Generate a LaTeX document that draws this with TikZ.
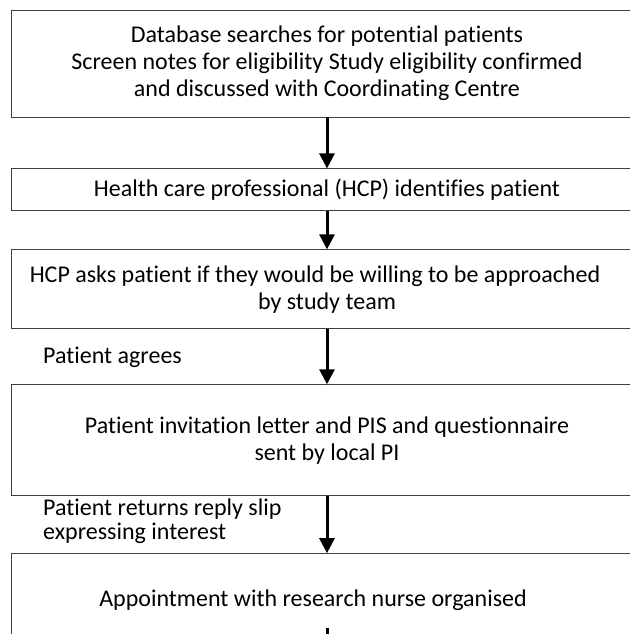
\documentclass[tikz,border=0pt]{standalone}
\usepackage{fontspec}
\setmainfont{Carlito}[Ligatures=NoCommon]
\usetikzlibrary{positioning,arrows.meta}

\tikzset{
  stepbox/.style={draw=black!75, line width=0.9pt, minimum width=631pt, align=center,
    font=\fontsize{24}{27}\selectfont},
  note/.style={align=left, anchor=west, inner xsep=0pt, font=\fontsize{24}{24}\selectfont},
  flow/.style={-{Triangle[width=15pt,length=15pt]}, line width=3pt},
}

\begin{document}
\begin{tikzpicture}[x=1pt,y=1pt,node distance=51pt]
    \useasboundingbox (0,0) rectangle (630,-634);
    \clip (0,0) rectangle (630,-634);
    \node[stepbox, minimum height=107pt] (search) at (327,-63.5)
        {Database searches for potential patients\\
         Screen notes for eligibility Study eligibility confirmed\\
         and discussed with Coordinating Centre};
    \node[stepbox, minimum height=42pt]  (hcp)    [below=51pt of search]
        {Health care professional (HCP) identifies patient};
    \node[stepbox, minimum height=79pt]  (ask)    [below=38pt of hcp]
        {HCP asks patient if they would be willing to be approached\hspace*{24pt}\\
         by study team};
    \node[stepbox, minimum height=111pt] (invite) [below=55pt of ask]
        {Patient invitation letter and PIS and questionnaire\\
         sent by local PI};
    \node[stepbox, minimum height=94pt]  (appt)   [below=57pt of invite]
        {Appointment with research nurse organised\hspace*{28pt}};

    \node[note] (agrees) at (43,-357) {Patient agrees};
    \node[note] (reply)  at (43,-521) {Patient returns reply slip\\expressing interest};

    \draw[flow] (search) -- (hcp);
    \draw[flow] (hcp)    -- (ask);
    \draw[flow] (ask)    -- (invite);
    \draw[flow] (invite) -- (appt);

    % next arrow starts at the cut edge
    \coordinate (stub) at (327,-628);
    \draw[line width=3pt] (stub) -- (stub |- appt.south);
\end{tikzpicture}
\end{document}
